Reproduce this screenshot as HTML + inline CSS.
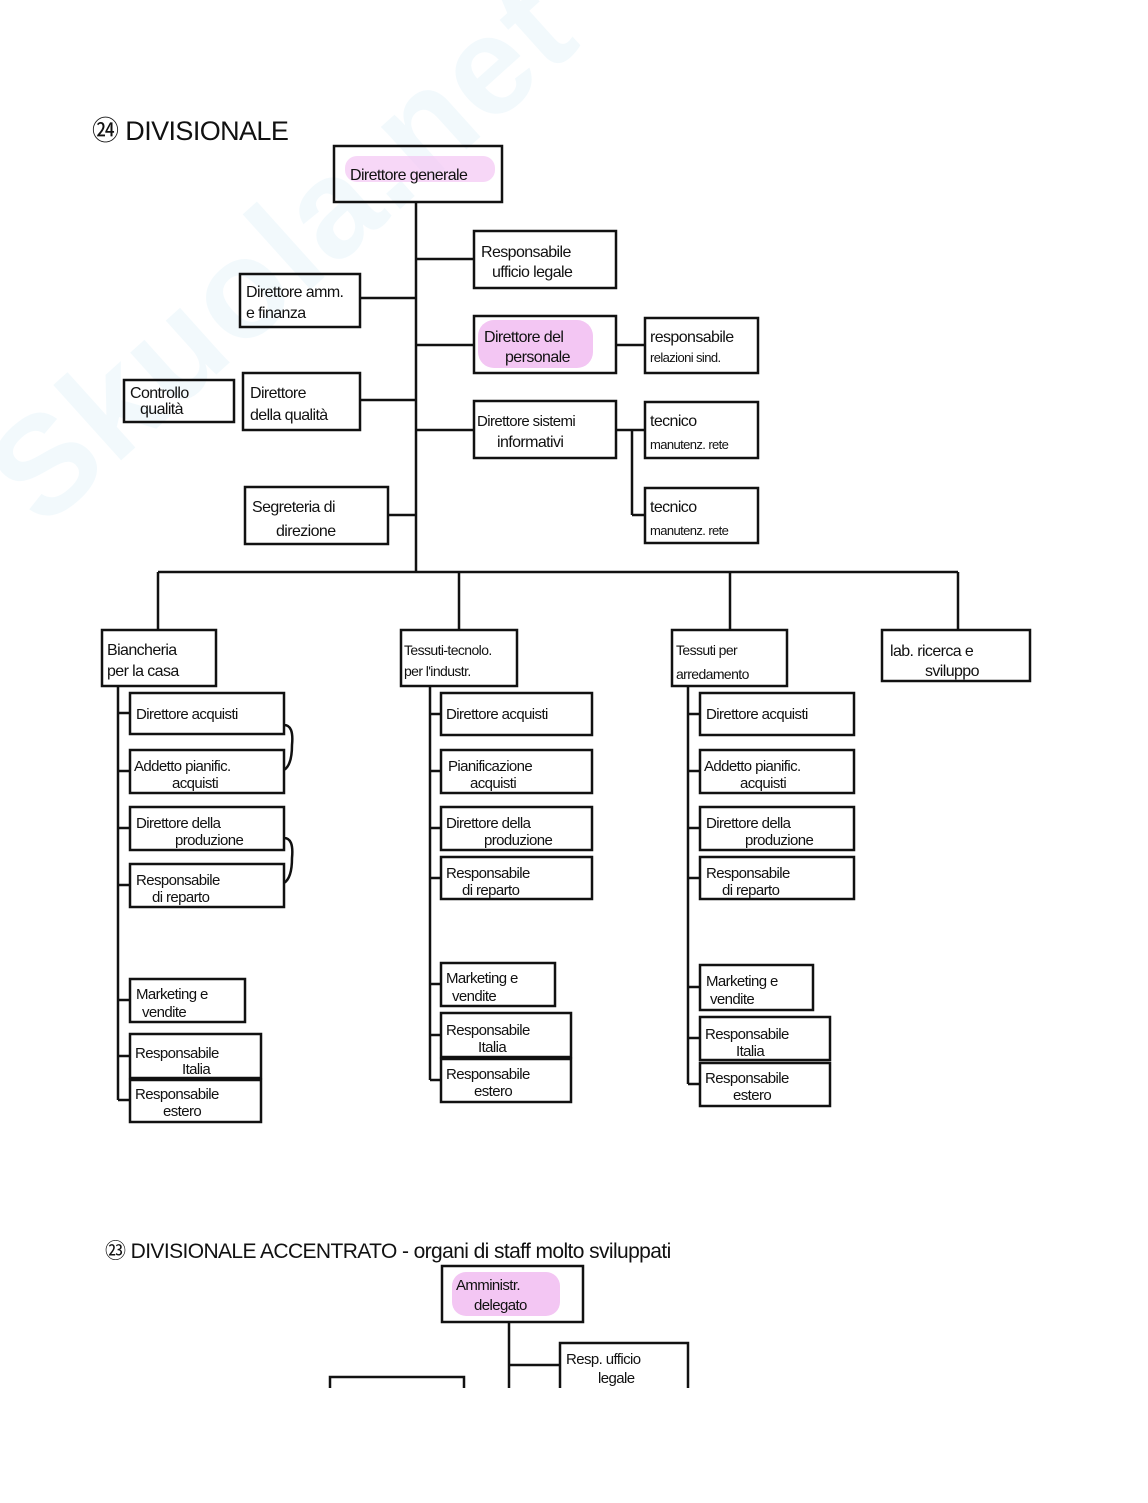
<!DOCTYPE html>
<html><head><meta charset="utf-8"><style>
html,body{margin:0;padding:0;background:#fff}
svg{display:block}
text{font-family:"Liberation Sans",sans-serif;fill:#111;letter-spacing:-0.6px}
</style></head><body>
<svg width="1148" height="1503" viewBox="0 0 1148 1503" xmlns="http://www.w3.org/2000/svg">
<g transform="rotate(-42 280 250)" opacity="0.25">
<text x="280" y="300" text-anchor="middle" style="font-size:140px;font-weight:bold;fill:#cfeaf7;letter-spacing:2px">Skuola.net</text>
</g>
<text x="92" y="140" style="font-size:27px">㉔ DIVISIONALE</text>
<g stroke="#111" stroke-width="2.5" fill="none">
<path d="M416 202V572M416 259H474M360 298H416M416 345H474M360 400H416M416 430H474M388 515H416M616 345H645M616 430H632M632 430V515M632 430H645M632 515H645"/>
<path d="M158 572H958M158 572V630M459 572V630M730 572V630M958 572V630"/>
<path d="M118 686V1100M118 713H130M118 771H130M118 828H130M118 885H130M118 1000H130M118 1056H130M118 1100H130"/>
<path d="M284 725q10 0 8 20 q0 20 -8 25M284 838q10 0 8 20 q0 20 -8 25"/>
<path d="M430 686V1080M430 714H441M430 771H441M430 828H441M430 878H441M430 984H441M430 1035H441M430 1080H441"/>
<path d="M688 686V1084M688 714H700M688 771H700M688 828H700M688 878H700M688 987H700M688 1038H700M688 1084H700"/>
<path d="M509 1322V1388M509 1365H560"/>
</g>
<g fill="#f3c6f3">
<rect x="345" y="156" width="150" height="26" rx="12" opacity="0.7"/>
<rect x="478" y="320" width="115" height="48" rx="16"/>
<rect x="452" y="1272" width="108" height="44" rx="14"/>
</g>
<g stroke="#111" stroke-width="2.5" fill="none">
<rect x="334" y="146" width="168" height="56"/>
<rect x="474" y="231" width="142" height="57"/>
<rect x="240" y="274" width="120" height="53"/>
<rect x="474" y="316" width="142" height="57"/>
<rect x="645" y="318" width="113" height="55"/>
<rect x="124" y="380" width="110" height="42"/>
<rect x="243" y="373" width="117" height="57"/>
<rect x="474" y="401" width="142" height="57"/>
<rect x="645" y="402" width="113" height="56"/>
<rect x="645" y="488" width="113" height="55"/>
<rect x="245" y="487" width="143" height="57"/>
<rect x="102" y="630" width="114" height="56"/>
<rect x="401" y="630" width="116" height="56"/>
<rect x="672" y="630" width="115" height="56"/>
<rect x="882" y="630" width="148" height="51"/>
<rect x="130" y="693" width="154" height="41"/>
<rect x="130" y="750" width="154" height="43"/>
<rect x="130" y="807" width="154" height="43"/>
<rect x="130" y="864" width="154" height="43"/>
<rect x="130" y="979" width="115" height="43"/>
<rect x="130" y="1034" width="131" height="44"/>
<rect x="130" y="1080" width="131" height="42"/>
<rect x="441" y="693" width="151" height="42"/>
<rect x="441" y="750" width="151" height="43"/>
<rect x="441" y="807" width="151" height="43"/>
<rect x="441" y="857" width="151" height="42"/>
<rect x="441" y="963" width="114" height="43"/>
<rect x="441" y="1013" width="130" height="44"/>
<rect x="441" y="1059" width="130" height="43"/>
<rect x="700" y="693" width="154" height="42"/>
<rect x="700" y="750" width="154" height="43"/>
<rect x="700" y="807" width="154" height="43"/>
<rect x="700" y="857" width="154" height="42"/>
<rect x="700" y="965" width="113" height="45"/>
<rect x="700" y="1017" width="130" height="43"/>
<rect x="700" y="1063" width="130" height="43"/>
<rect x="442" y="1266" width="141" height="56"/>
<path d="M560 1388V1343H688V1388M330 1388V1377H464V1388"/>
</g>
<g style="font-size:16px">
<text x="350" y="180">Direttore generale</text>
<text x="481" y="257">Responsabile</text><text x="492" y="277">ufficio legale</text>
<text x="246" y="297">Direttore amm.</text><text x="246" y="318">e finanza</text>
<text x="484" y="342">Direttore del</text><text x="505" y="362">personale</text>
<text x="650" y="342">responsabile</text><text x="650" y="362" style="font-size:13px">relazioni sind.</text>
<text x="130" y="398">Controllo</text><text x="140" y="414">qualità</text>
<text x="250" y="398">Direttore</text><text x="250" y="420">della qualità</text>
<text x="477" y="426" style="font-size:15px">Direttore sistemi</text><text x="497" y="447">informativi</text>
<text x="650" y="426">tecnico</text><text x="650" y="449" style="font-size:13px">manutenz. rete</text>
<text x="650" y="512">tecnico</text><text x="650" y="535" style="font-size:13px">manutenz. rete</text>
<text x="252" y="512">Segreteria di</text><text x="276" y="536">direzione</text>
<text x="107" y="655">Biancheria</text><text x="107" y="676">per la casa</text>
<text x="404" y="655" style="font-size:14px">Tessuti-tecnolo.</text><text x="404" y="676" style="font-size:14px">per l'industr.</text>
<text x="676" y="655" style="font-size:14px">Tessuti per</text><text x="676" y="679" style="font-size:14px">arredamento</text>
<text x="890" y="656">lab. ricerca e</text><text x="925" y="676">sviluppo</text>
</g>
<g style="font-size:15px">
<text x="136" y="719">Direttore acquisti</text>
<text x="134" y="771">Addetto pianific.</text><text x="172" y="788">acquisti</text>
<text x="136" y="828">Direttore della</text><text x="175" y="845">produzione</text>
<text x="136" y="885">Responsabile</text><text x="152" y="902">di reparto</text>
<text x="136" y="999">Marketing e</text><text x="142" y="1017">vendite</text>
<text x="135" y="1058">Responsabile</text><text x="182" y="1074">Italia</text>
<text x="135" y="1099">Responsabile</text><text x="163" y="1116">estero</text>
<text x="446" y="719">Direttore acquisti</text>
<text x="448" y="771">Pianificazione</text><text x="470" y="788">acquisti</text>
<text x="446" y="828">Direttore della</text><text x="484" y="845">produzione</text>
<text x="446" y="878">Responsabile</text><text x="462" y="895">di reparto</text>
<text x="446" y="983">Marketing e</text><text x="452" y="1001">vendite</text>
<text x="446" y="1035">Responsabile</text><text x="478" y="1052">Italia</text>
<text x="446" y="1079">Responsabile</text><text x="474" y="1096">estero</text>
<text x="706" y="719">Direttore acquisti</text>
<text x="704" y="771">Addetto pianific.</text><text x="740" y="788">acquisti</text>
<text x="706" y="828">Direttore della</text><text x="745" y="845">produzione</text>
<text x="706" y="878">Responsabile</text><text x="722" y="895">di reparto</text>
<text x="706" y="986">Marketing e</text><text x="710" y="1004">vendite</text>
<text x="705" y="1039">Responsabile</text><text x="736" y="1056">Italia</text>
<text x="705" y="1083">Responsabile</text><text x="733" y="1100">estero</text>
<text x="456" y="1290">Amministr.</text><text x="474" y="1310">delegato</text>
<text x="566" y="1364">Resp. ufficio</text><text x="598" y="1383">legale</text>
</g>
<text x="105" y="1258" style="font-size:21px">㉓ DIVISIONALE ACCENTRATO - organi di staff molto sviluppati</text>
<rect x="0" y="1390" width="1148" height="113" fill="#fff"/>
</svg>
</body></html>
